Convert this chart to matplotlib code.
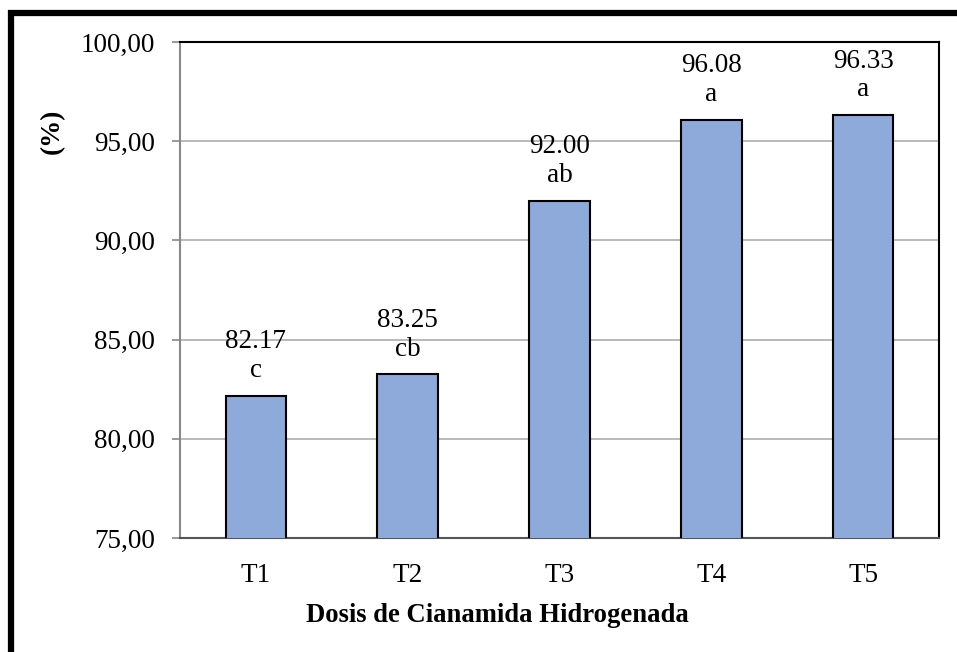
import matplotlib
matplotlib.use("Agg")
import matplotlib.pyplot as plt
from matplotlib.patches import Rectangle

categories = ["T1", "T2", "T3", "T4", "T5"]
values = [82.17, 83.25, 92.00, 96.08, 96.33]
letters = ["c", "cb", "ab", "a", "a"]
yticks = [75, 80, 85, 90, 95, 100]
ytick_labels = ["75,00", "80,00", "85,00", "90,00", "95,00", "100,00"]

plt.rcParams['font.family'] = ['Liberation Serif', 'DejaVu Serif']
FS = 19.5

W, H = 957, 652
fig = plt.figure(figsize=(W/100, H/100), dpi=100)
ax = fig.add_axes([180/W, (H-538)/H, (939-180)/W, (538-42)/H])

x = list(range(len(categories)))
ax.bar(x, values, width=0.40, color='#8EAADB', edgecolor='black',
       linewidth=1.5, zorder=3)
ax.set_ylim(75, 100)
ax.set_xlim(-0.5, len(categories) - 0.5)

for xi, v, l in zip(x, values, letters):
    ax.annotate(f"{v:.2f}\n{l}", xy=(xi, v), xytext=(0, 9), textcoords='offset points',
                ha='center', va='bottom', fontsize=FS, linespacing=1.2, zorder=4)

ax.set_yticks(yticks)
ax.set_yticklabels(ytick_labels, fontsize=FS)
ax.set_xticks(x)
ax.set_xticklabels(categories, fontsize=FS)
ax.tick_params(axis='x', length=0, pad=18)
ax.tick_params(axis='y', length=6, width=1.2, color='#888888', pad=12)

ax.yaxis.grid(True, color='#A6A6A6', linewidth=1.1, zorder=0)
ax.set_axisbelow(True)

ax.spines['left'].set_color('#888888')
ax.spines['left'].set_linewidth(1.5)
ax.spines['bottom'].set_color('#555555')
ax.spines['bottom'].set_linewidth(1.5)
ax.spines['top'].set_color('black')
ax.spines['top'].set_linewidth(1.5)
ax.spines['right'].set_color('black')
ax.spines['right'].set_linewidth(1.5)

ax.set_xlabel("Dosis de Cianamida Hidrogenada", fontsize=19.2, fontweight='bold', labelpad=11)
ax.xaxis.label.set_x(0.4177)
ax.set_ylabel("(%)", fontsize=FS, fontweight='bold')
ax.yaxis.set_label_coords(-0.152, 0.82)

# outer frame (top and left visible)
fig.patches.append(Rectangle((11/W, -0.5), 3.0, (H - 13)/H + 0.5, transform=fig.transFigure,
                             fill=False, edgecolor='black', linewidth=4.5, zorder=10))

fig.savefig("out.png", dpi=100)
